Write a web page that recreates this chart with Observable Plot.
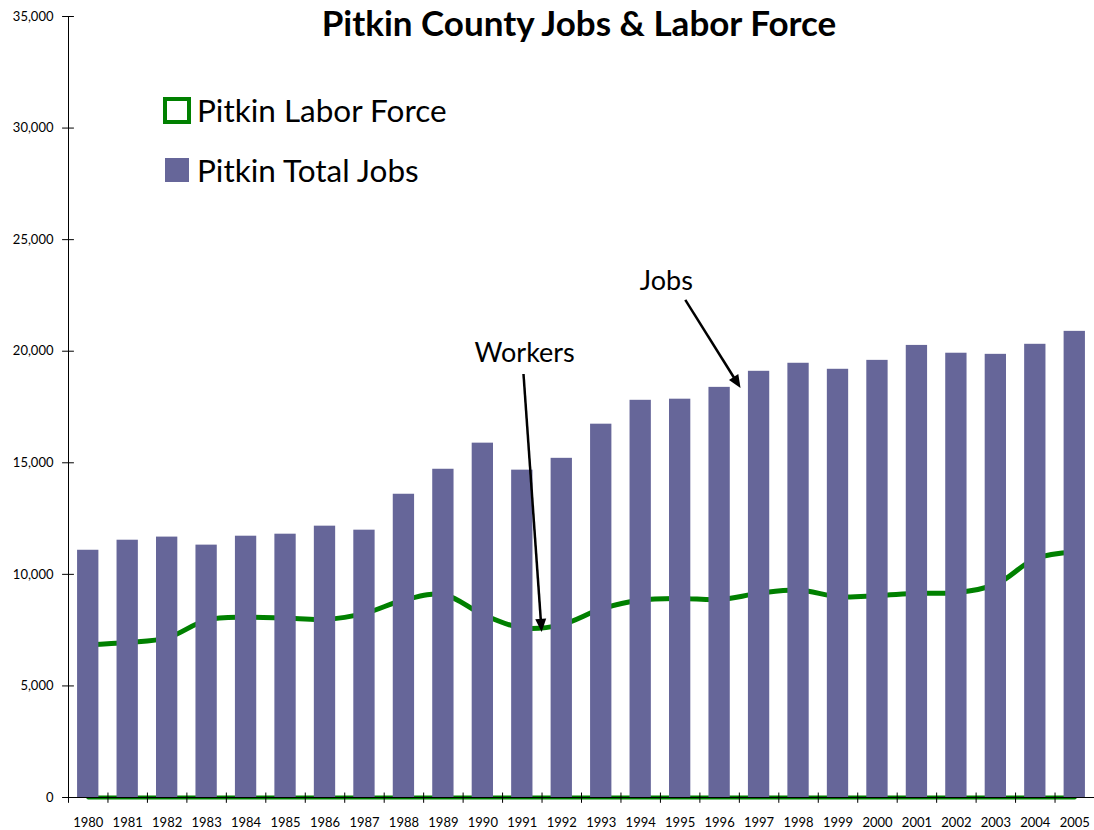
<!DOCTYPE html>
<html>
<head>
<meta charset="utf-8">
<script src="https://cdn.jsdelivr.net/npm/d3@7"></script>
<script src="https://cdn.jsdelivr.net/npm/@observablehq/plot@0.6"></script>
<style>
  body { margin: 0; background: #fff; }
  #wrap { position: relative; width: 1094px; height: 830px; font-family: Lato, "Open Sans", sans-serif; }
  #title { position: absolute; left: 179px; width: 800px; top: 4px; line-height: 36px; text-align: center; font-weight: bold; font-size: 35px; color: #000; }
  .leg { position: absolute; left: 163px; display: flex; align-items: center; font-size: 31.5px; color: #000; }
  .sw { box-sizing: border-box; margin-right: 6px; }
</style>
</head>
<body>
<div id="wrap">
  <div id="chart"></div>
  <div id="title">Pitkin County Jobs &amp; Labor Force</div>
  <div class="leg" style="top:91px"><div class="sw" style="width:28px;height:27px;border:4px solid #008000;"></div><span>Pitkin Labor Force</span></div>
  <div class="leg" style="top:151px"><div class="sw" style="width:24px;height:24px;background:#666699;margin-left:2px;margin-right:8px"></div><span>Pitkin Total Jobs</span></div>
</div>
<script>
const years = [1980,1981,1982,1983,1984,1985,1986,1987,1988,1989,1990,1991,1992,1993,1994,1995,1996,1997,1998,1999,2000,2001,2002,2003,2004,2005];
const totalJobs = [11080,11530,11670,11310,11710,11800,12160,11980,13590,14710,15880,14670,15200,16730,17800,17850,18380,19100,19460,19190,19590,20260,19910,19860,20310,20890];
const laborForce = [6850,6950,7150,7950,8080,8040,7980,8250,8850,9100,8200,7600,7750,8450,8850,8920,8870,9150,9300,9000,9050,9150,9180,9550,10700,11000];
const yTicks = [0,5000,10000,15000,20000,25000,30000,35000];

const rows = years.map((y, i) => ({year: y, jobs: totalJobs[i], labor: laborForce[i]}));
const bounds = years.map(y => y - 0.5);
const xMin = years[0] - 0.5, xMax = years[years.length - 1] + 0.5;

const W = 1094, H = 830, ML = 68, MR = 0, MT = 16, MB = 33;
const kx = (W - ML - MR) / (xMax - xMin);   // px per year
const ky = (H - MT - MB) / 35000;           // px per unit

const annoText = [
  {label: "Workers", x: 1991.06, y: 19920},
  {label: "Jobs", x: 1994.65, y: 23150}
];
const annoArrows = [
  {x1: 1991.03, y1: 18980, x2: 1991.49, y2: 7420},
  {x1: 1995.13, y1: 22300, x2: 1996.53, y2: 18350}
].map(a => {
  const dx = (a.x2 - a.x1) * kx, dy = (a.y1 - a.y2) * ky;
  const len = Math.hypot(dx, dy), f = (len - 8) / len;
  return {...a, angle: Math.atan2(dx, -dy) * 180 / Math.PI,
          xe: a.x1 + (a.x2 - a.x1) * f, ye: a.y1 + (a.y2 - a.y1) * f};
});

const chart = Plot.plot({
  width: W,
  height: H,
  marginLeft: ML,
  marginRight: MR,
  marginTop: MT,
  marginBottom: MB,
  style: {fontFamily: "Lato, 'Open Sans', sans-serif", fontSize: "13px", background: "#fff", color: "#000"},
  x: {domain: [xMin, xMax], axis: null},
  y: {domain: [0, 35000], axis: null},
  marks: [
    Plot.lineY(rows, {x: "year", y: 0, stroke: "#008000", strokeWidth: 4}),
    Plot.line(rows, {x: "year", y: "labor", stroke: "#008000", strokeWidth: 5, curve: "catmull-rom"}),
    Plot.rectY(rows, {x1: d => d.year - 0.27, x2: d => d.year + 0.27, y1: 0, y2: "jobs", fill: "#666699"}),
    Plot.ruleY([0], {x1: xMin, x2: xMax, stroke: "#000", strokeWidth: 1}),
    Plot.ruleX([xMin], {y1: 0, y2: 35000, stroke: "#000", strokeWidth: 1}),
    Plot.ruleY(yTicks, {x1: xMin - 0.15, x2: xMin + 0.15, stroke: "#000"}),
    Plot.ruleX(bounds, {y1: 200, y2: -260, stroke: "#000"}),
    Plot.axisY({ticks: yTicks, tickFormat: d3.format(","), tickSize: 0, tickPadding: 15, label: null, fontSize: 13}),
    Plot.axisX({ticks: years, tickFormat: d => String(d), tickSize: 0, tickPadding: 20, label: null, fontSize: 13}),
    Plot.text(annoText, {x: "x", y: "y", text: "label", fontSize: 27, fill: "#000"}),
    Plot.link(annoArrows, {x1: "x1", y1: "y1", x2: "xe", y2: "ye", stroke: "#000", strokeWidth: 2.5}),
    Plot.vector(annoArrows, {x: "x2", y: "y2", rotate: "angle", length: 13, r: 5.5, shape: "spike", anchor: "end", fill: "#000", stroke: "none"})
  ]
});
document.getElementById("chart").appendChild(chart);
</script>
</body>
</html>
